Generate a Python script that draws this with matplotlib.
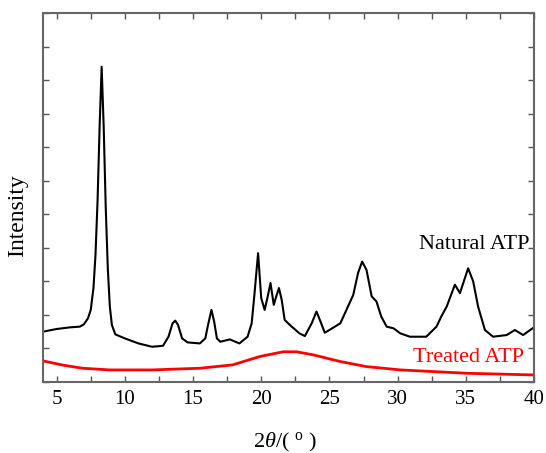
import matplotlib
matplotlib.use("Agg")
import matplotlib.pyplot as plt
from matplotlib.ticker import MultipleLocator, NullFormatter

plt.rcParams["font.family"] = ["Liberation Serif", "DejaVu Serif"]
plt.rcParams["mathtext.fontset"] = "custom"
plt.rcParams["mathtext.it"] = "Liberation Serif:italic"
plt.rcParams["mathtext.rm"] = "Liberation Serif"

# Natural ATP pattern
natural_x = [4.0, 5.0, 6.0, 6.7, 7.0, 7.3, 7.5, 7.7, 7.85, 8.0, 8.15, 8.3, 8.45, 8.6,
             8.75, 8.9, 9.05, 9.3, 10.0, 11.0, 12.0, 12.8, 13.2, 13.5, 13.7, 13.9,
             14.2, 14.6, 15.5, 15.9, 16.1, 16.35, 16.55, 16.75, 17.0, 17.7, 18.4,
             19.0, 19.3, 19.5, 19.77, 20.0, 20.25, 20.45, 20.68, 20.92, 21.1, 21.3,
             21.5, 21.72, 22.1, 22.8, 23.2, 23.7, 24.05, 24.3, 24.66, 25.0, 25.8,
             26.25, 26.75, 27.1, 27.4, 27.72, 28.1, 28.45, 28.8, 29.2, 29.7, 30.2,
             30.9, 32.1, 32.85, 33.2, 33.6, 34.2, 34.57, 35.17, 35.54, 35.9, 36.4,
             37.0, 38.0, 38.6, 39.2, 40.0]
natural_y = [1.50, 1.58, 1.63, 1.65, 1.72, 1.90, 2.15, 2.8, 3.8, 5.4, 7.6, 9.40, 7.6,
             5.2, 3.4, 2.25, 1.7, 1.42, 1.30, 1.15, 1.05, 1.08, 1.35, 1.75, 1.83,
             1.70, 1.30, 1.18, 1.15, 1.30, 1.70, 2.15, 1.80, 1.30, 1.20, 1.27, 1.15,
             1.35, 1.75, 2.6, 3.84, 2.50, 2.15, 2.5, 2.95, 2.30, 2.55, 2.80,
             2.45, 1.85, 1.70, 1.45, 1.37, 1.75, 2.10, 1.85, 1.47, 1.55, 1.75,
             2.15, 2.60, 3.25, 3.59, 3.34, 2.55, 2.40, 1.95, 1.65, 1.60, 1.45,
             1.35, 1.35, 1.65, 1.95, 2.25, 2.90, 2.65, 3.39, 3.00, 2.25, 1.55,
             1.35, 1.40, 1.55, 1.40, 1.63]

# Treated ATP pattern
treated_x = [4.0, 5.5, 6.9, 8.9, 12.0, 15.5, 17.9, 19.9, 21.6, 22.6, 23.8, 25.8,
             27.7, 30.2, 35.1, 40.0]
treated_y = [0.63, 0.50, 0.41, 0.36, 0.36, 0.41, 0.51, 0.76, 0.90, 0.90, 0.81, 0.61,
             0.46, 0.36, 0.26, 0.21]

fig = plt.figure(figsize=(5.46, 4.53), dpi=100)
ax = fig.add_axes([43 / 546, 1 - 382 / 453, (534 - 43) / 546, (382 - 13) / 453])

ax.plot(natural_x, natural_y, color="black", lw=1.5)
ax.plot(treated_x, treated_y, color="red", lw=2)

ax.text(39.7, 4.09, "Natural ATP", color="black", fontsize=16, ha="right", va="center")
ax.text(39.3, 0.72, "Treated ATP", color="red", fontsize=16, ha="right", va="center")

ax.set_xlim(4, 40)
ax.set_ylim(0, 11)
ax.xaxis.set_major_locator(MultipleLocator(5))
ax.xaxis.set_minor_locator(MultipleLocator(2.5))
ax.yaxis.set_major_locator(MultipleLocator(1))
ax.yaxis.set_major_formatter(NullFormatter())
ax.tick_params(which="both", direction="in", top=True, right=True, color="#555555",
               labelsize=15, length=4, width=1, pad=6)
for s in ax.spines.values():
    s.set_color("#666666")
    s.set_linewidth(1.5)

ax.set_xlabel(r"2$\theta$/( $\mathregular{^o}$ )", fontsize=16)
ax.xaxis.set_label_coords((285 - 43) / 491, -(431 - 382) / 369)
ax.set_ylabel("Intensity", fontsize=17)
ax.yaxis.set_label_coords(-(43 - 28) / 491, (382 - 216) / 369)

fig.savefig("out.png", dpi=100)
